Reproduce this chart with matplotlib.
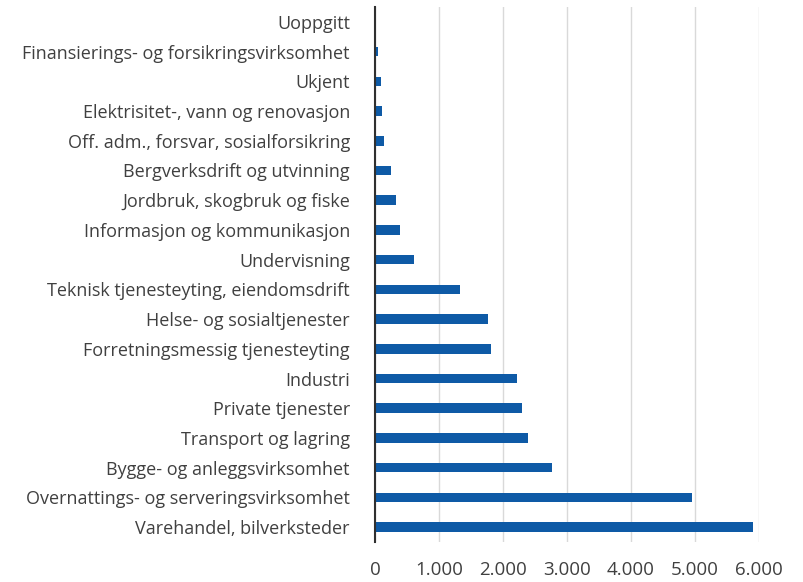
import matplotlib
matplotlib.use("Agg")
import matplotlib.pyplot as plt
from matplotlib.ticker import FuncFormatter

# categories from top to bottom as shown
categories = [
    "Uoppgitt",
    "Finansierings- og forsikringsvirksomhet",
    "Ukjent",
    "Elektrisitet-, vann og renovasjon",
    "Off. adm., forsvar, sosialforsikring",
    "Bergverksdrift og utvinning",
    "Jordbruk, skogbruk og fiske",
    "Informasjon og kommunikasjon",
    "Undervisning",
    "Teknisk tjenesteyting, eiendomsdrift",
    "Helse- og sosialtjenester",
    "Forretningsmessig tjenesteyting",
    "Industri",
    "Private tjenester",
    "Transport og lagring",
    "Bygge- og anleggsvirksomhet",
    "Overnattings- og serveringsvirksomhet",
    "Varehandel, bilverksteder",
]
values = [5, 52, 89, 109, 135, 250, 333, 396, 615, 1328, 1766, 1808,
          2214, 2292, 2386, 2766, 4953, 5917]
xticks = [0, 1000, 2000, 3000, 4000, 5000, 6000]

plt.rcParams['font.family'] = ['Open Sans', 'DejaVu Sans']

fig = plt.figure(figsize=(8.04, 5.82), dpi=100)
ax = fig.add_axes([375/804, 1-542/582, (758.7-375)/804, (542-7)/582])

ypos = list(range(len(categories)))[::-1]
ax.barh(ypos, values, height=0.32, color="#0e5aa6", zorder=3)

ax.set_ylim(-0.5, len(categories)-0.5)
ax.set_xlim(0, 6000)
ax.set_yticks(ypos)
ax.set_yticklabels(categories, fontsize=13, color="#404040")
ax.set_xticks(xticks)
ax.xaxis.set_major_formatter(FuncFormatter(lambda v, p: f"{int(v):,}".replace(",", ".")))
ax.tick_params(axis='x', length=0, pad=14, labelsize=13.5, labelcolor="#404040")
ax.tick_params(axis='y', length=0, pad=18)
ax.grid(axis='x', color="#d9d9d9", linewidth=1, zorder=0)
for s in ["top", "right", "bottom"]:
    ax.spines[s].set_visible(False)
ax.spines["left"].set_color("#303030")
ax.spines["left"].set_linewidth(1.5)
ax.spines["left"].set_zorder(4)

fig.savefig("out.png", dpi=100)
